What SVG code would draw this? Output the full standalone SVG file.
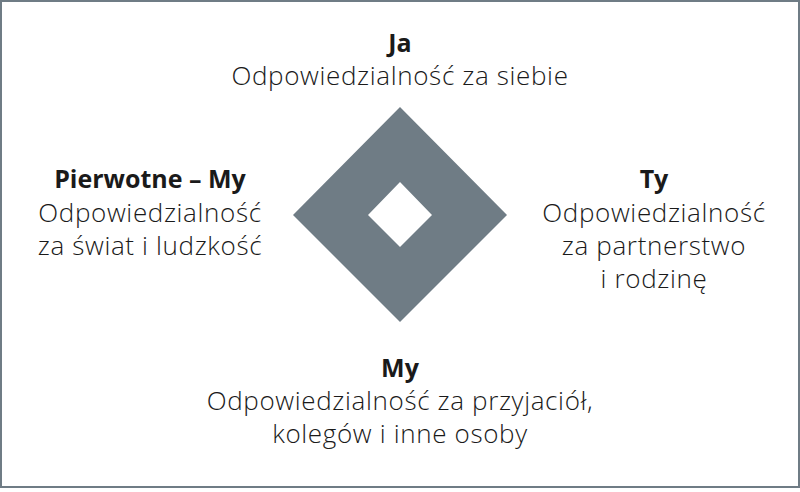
<svg xmlns="http://www.w3.org/2000/svg" width="800" height="492" viewBox="0 0 800 492">
<style>
text{font-family:"Open Sans","Noto Sans","Liberation Sans",sans-serif;font-size:26px;letter-spacing:0.65px;font-weight:300;fill:#1a1a1a;text-anchor:middle}
.b{font-size:25px;letter-spacing:0;font-weight:700}
</style>
<rect x="0" y="0" width="800" height="492" fill="#fff"/>
<rect x="1" y="1" width="798" height="486" fill="none" stroke="#6f7c85" stroke-width="2"/>
<g id="diamond">
<path d="M400 107 L507 215 L400 322 L293 215 Z M400 182 L368 215 L400 247 L432 215 Z" fill="#6f7c85" fill-rule="evenodd"/>
</g>
<g id="node-ja">
<text x="400" y="52" class="b">Ja</text>
<text x="400" y="85">Odpowiedzialność za siebie</text>
</g>
<g id="node-pierwotne">
<text x="150" y="188" class="b">Pierwotne – My</text>
<text x="150" y="222">Odpowiedzialność</text>
<text x="150" y="255">za świat i ludzkość</text>
</g>
<g id="node-ty">
<text x="654" y="188" class="b">Ty</text>
<text x="654" y="222">Odpowiedzialność</text>
<text x="654" y="255">za partnerstwo</text>
<text x="654" y="288">i rodzinę</text>
</g>
<g id="node-my">
<text x="400" y="377" class="b">My</text>
<text x="400" y="410">Odpowiedzialność za przyjaciół,</text>
<text x="400" y="443">kolegów i inne osoby</text>
</g>
<g id="connectors"></g>
</svg>
